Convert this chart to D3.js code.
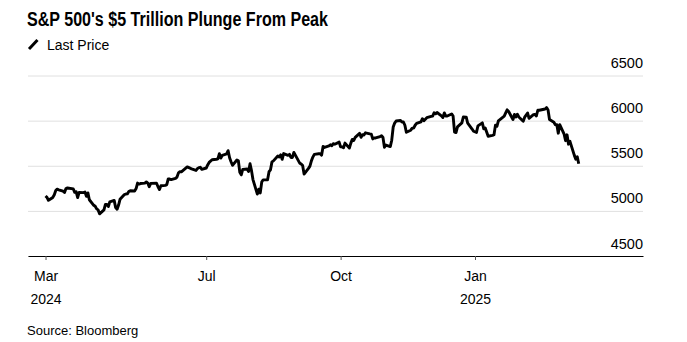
<!DOCTYPE html>
<html lang="en">
<head>
<meta charset="utf-8">
<title>S&amp;P 500 Plunge</title>
<script src="https://cdn.jsdelivr.net/npm/d3@7"></script>
<style>
  body { margin: 0; background: #fff; }
  svg text { font-family: "Liberation Sans", Arial, Helvetica, sans-serif; fill: #000; }
</style>
</head>
<body>
<script>
// S&P 500 daily closes, Mar 13 2024 - Mar 13 2025
const dates = [
  "2024-03-13","2024-03-14","2024-03-15","2024-03-18","2024-03-19","2024-03-20","2024-03-21","2024-03-22","2024-03-25","2024-03-26","2024-03-27","2024-03-28",
  "2024-04-01","2024-04-02","2024-04-03","2024-04-04","2024-04-05","2024-04-08","2024-04-09","2024-04-10","2024-04-11","2024-04-12","2024-04-15","2024-04-16","2024-04-17","2024-04-18","2024-04-19","2024-04-22","2024-04-23","2024-04-24","2024-04-25","2024-04-26","2024-04-29","2024-04-30",
  "2024-05-01","2024-05-02","2024-05-03","2024-05-06","2024-05-07","2024-05-08","2024-05-09","2024-05-10","2024-05-13","2024-05-14","2024-05-15","2024-05-16","2024-05-17","2024-05-20","2024-05-21","2024-05-22","2024-05-23","2024-05-24","2024-05-28","2024-05-29","2024-05-30","2024-05-31",
  "2024-06-03","2024-06-04","2024-06-05","2024-06-06","2024-06-07","2024-06-10","2024-06-11","2024-06-12","2024-06-13","2024-06-14","2024-06-17","2024-06-18","2024-06-20","2024-06-21","2024-06-24","2024-06-25","2024-06-26","2024-06-27","2024-06-28",
  "2024-07-01","2024-07-02","2024-07-03","2024-07-05","2024-07-08","2024-07-09","2024-07-10","2024-07-11","2024-07-12","2024-07-15","2024-07-16","2024-07-17","2024-07-18","2024-07-19","2024-07-22","2024-07-23","2024-07-24","2024-07-25","2024-07-26","2024-07-29","2024-07-30","2024-07-31",
  "2024-08-01","2024-08-02","2024-08-05","2024-08-06","2024-08-07","2024-08-08","2024-08-09","2024-08-12","2024-08-13","2024-08-14","2024-08-15","2024-08-16","2024-08-19","2024-08-20","2024-08-21","2024-08-22","2024-08-23","2024-08-26","2024-08-27","2024-08-28","2024-08-29","2024-08-30",
  "2024-09-03","2024-09-04","2024-09-05","2024-09-06","2024-09-09","2024-09-10","2024-09-11","2024-09-12","2024-09-13","2024-09-16","2024-09-17","2024-09-18","2024-09-19","2024-09-20","2024-09-23","2024-09-24","2024-09-25","2024-09-26","2024-09-27","2024-09-30",
  "2024-10-01","2024-10-02","2024-10-03","2024-10-04","2024-10-07","2024-10-08","2024-10-09","2024-10-10","2024-10-11","2024-10-14","2024-10-15","2024-10-16","2024-10-17","2024-10-18","2024-10-21","2024-10-22","2024-10-23","2024-10-24","2024-10-25","2024-10-28","2024-10-29","2024-10-30","2024-10-31",
  "2024-11-01","2024-11-04","2024-11-05","2024-11-06","2024-11-07","2024-11-08","2024-11-11","2024-11-12","2024-11-13","2024-11-14","2024-11-15","2024-11-18","2024-11-19","2024-11-20","2024-11-21","2024-11-22","2024-11-25","2024-11-26","2024-11-27","2024-11-29",
  "2024-12-02","2024-12-03","2024-12-04","2024-12-05","2024-12-06","2024-12-09","2024-12-10","2024-12-11","2024-12-12","2024-12-13","2024-12-16","2024-12-17","2024-12-18","2024-12-19","2024-12-20","2024-12-23","2024-12-24","2024-12-26","2024-12-27","2024-12-30","2024-12-31",
  "2025-01-02","2025-01-03","2025-01-06","2025-01-07","2025-01-08","2025-01-10","2025-01-13","2025-01-14","2025-01-15","2025-01-16","2025-01-17","2025-01-21","2025-01-22","2025-01-23","2025-01-24","2025-01-27","2025-01-28","2025-01-29","2025-01-30","2025-01-31",
  "2025-02-03","2025-02-04","2025-02-05","2025-02-06","2025-02-07","2025-02-10","2025-02-11","2025-02-12","2025-02-13","2025-02-14","2025-02-18","2025-02-19","2025-02-20","2025-02-21","2025-02-24","2025-02-25","2025-02-26","2025-02-27","2025-02-28",
  "2025-03-03","2025-03-04","2025-03-05","2025-03-06","2025-03-07","2025-03-10","2025-03-11","2025-03-12","2025-03-13"
];
const closes = [
  5165,5150,5117,5149,5179,5225,5241,5234,5218,5203,5248,5254,
  5243,5205,5211,5147,5204,5202,5209,5161,5199,5123,5062,5051,5022,5011,4967,5011,5071,5072,5048,5100,5116,5036,
  5018,5064,5128,5181,5187,5188,5214,5223,5221,5247,5308,5297,5303,5308,5321,5307,5268,5305,5306,5267,5236,5278,
  5283,5291,5354,5353,5347,5361,5375,5421,5434,5432,5473,5487,5473,5465,5448,5469,5478,5483,5460,
  5475,5509,5537,5567,5572,5577,5633,5585,5615,5631,5667,5589,5545,5505,5564,5555,5427,5399,5459,5464,5436,5522,
  5446,5347,5186,5240,5199,5319,5344,5344,5434,5455,5543,5554,5608,5597,5621,5571,5635,5616,5626,5592,5592,5648,
  5529,5520,5503,5408,5471,5496,5554,5596,5626,5633,5634,5618,5714,5703,5719,5732,5722,5745,5738,5762,
  5709,5709,5700,5751,5696,5751,5792,5780,5815,5859,5815,5843,5841,5865,5853,5851,5797,5809,5808,5824,5833,5813,5705,
  5729,5712,5783,5929,5973,5996,6001,5984,5985,5949,5871,5894,5917,5917,5949,5969,5987,6021,5999,6032,
  6047,6050,6087,6075,6090,6053,6034,6085,6051,6051,6074,6051,5872,5867,5931,5975,6040,6038,5971,5907,5882,
  5869,5942,5975,5909,5918,5827,5836,5843,5950,5937,5997,6049,6086,6119,6101,6012,6068,6039,6071,6041,
  5994,6038,6061,6084,6026,6066,6069,6052,6115,6115,6129,6144,6118,6013,5983,5955,5956,5861,5955,
  5850,5778,5843,5739,5770,5615,5572,5599,5522
];

const yTicks = [4500, 5000, 5500, 6000, 6500];
const xTickDates = ["2024-03-13", "2024-07-01", "2024-10-01", "2025-01-01"];
const xTickMonths = ["Mar", "Jul", "Oct", "Jan"];
const xTickYears = ["2024", "", "", "2025"];

const w = 687, h = 342;
const plotLeft = 28, plotRight = 643, plotTop = 75.5, plotBottom = 256;

const parse = d3.timeParse("%Y-%m-%d");
const series = dates.map((d, i) => ({ date: parse(d), value: closes[i] }));

const svg = d3.select("body").append("svg")
  .attr("width", w)
  .attr("height", h);

// Scales
const x = d3.scaleTime()
  .domain([parse("2024-03-01"), parse("2025-04-26")])
  .range([plotLeft, plotRight]);

const y = d3.scaleLinear()
  .domain([4500, 6500])
  .range([plotBottom, plotTop]);

// Grid + y labels
const yAxis = svg.append("g")
  .attr("transform", "translate(" + plotLeft + ",0)")
  .call(d3.axisRight(y).tickValues(yTicks).tickSize(plotRight - plotLeft).tickFormat(d3.format("d")));
yAxis.select(".domain").remove();
yAxis.selectAll("line")
  .attr("stroke", "#e0e0e0")
  .attr("stroke-width", 1);
yAxis.selectAll("text")
  .attr("x", plotRight - plotLeft)
  .attr("dy", 0)
  .attr("y", -8)
  .style("text-anchor", "end")
  .style("font-size", "14.5px");

// Price line
svg.append("path")
  .datum(series)
  .attr("fill", "none")
  .attr("stroke", "#000")
  .attr("stroke-width", 2.9)
  .attr("stroke-linejoin", "round")
  .attr("d", d3.line().x(d => x(d.date)).y(d => y(d.value)));

// X axis
const xAxis = svg.append("g")
  .attr("transform", "translate(0," + plotBottom + ")")
  .call(d3.axisBottom(x)
    .tickValues(xTickDates.map(parse))
    .tickSize(4)
    .tickSizeOuter(0)
    .tickFormat((d, i) => xTickMonths[i]));
xAxis.select(".domain").attr("stroke", "#000");
xAxis.selectAll(".tick line").attr("stroke", "#555");
xAxis.selectAll(".tick text")
  .attr("y", 25)
  .attr("dy", 0)
  .style("font-size", "14px")
  .each(function(d, i) {
    if (xTickYears[i]) {
      d3.select(this.parentNode).append("text")
        .attr("y", 48)
        .attr("fill", "#000")
        .style("font-size", "14px")
        .style("text-anchor", "middle")
        .text(xTickYears[i]);
    }
  });

// Title
svg.append("text")
  .attr("x", 27)
  .attr("y", 26)
  .attr("textLength", 301)
  .attr("lengthAdjust", "spacingAndGlyphs")
  .style("font-size", "20px")
  .style("font-weight", "bold")
  .text("S&P 500's $5 Trillion Plunge From Peak");

// Legend
svg.append("line")
  .attr("x1", 29).attr("y1", 49)
  .attr("x2", 37.5).attr("y2", 40)
  .attr("stroke", "#000")
  .attr("stroke-width", 3);
svg.append("text")
  .attr("x", 47)
  .attr("y", 50)
  .style("font-size", "14px")
  .text("Last Price");

// Source
svg.append("text")
  .attr("x", 27)
  .attr("y", 335)
  .style("font-size", "13px")
  .text("Source: Bloomberg");
</script>
</body>
</html>
